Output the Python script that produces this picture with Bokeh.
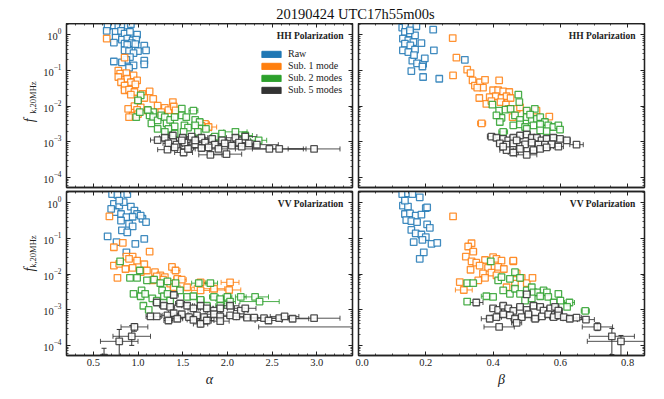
import math
from bokeh.plotting import figure
from bokeh.models import (ColumnDataSource, Whisker, TeeHead, Label, Legend, LegendItem,
                          LinearAxis, LogAxis, SingleIntervalTicker, LogTicker, Range1d,
                          PrintfTickFormatter)
from bokeh.core.properties import value
from bokeh.layouts import column, row
from bokeh.embed import file_html
from bokeh.resources import INLINE

TITLE = "20190424 UTC17h55m00s"
SERIES = ["Raw", "Sub. 1 mode", "Sub. 2 modes", "Sub. 5 modes"]
COLORS = ["#1f77b4", "#ff7f0e", "#2ca02c", "#333333"]
POLS = ["HH Polarization", "VV Polarization"]
XLABELS = ["α", "β"]
YLABEL_MAIN = "f"
YLABEL_SUB = "k,20MHz"

# ---------------- HH, alpha ----------------
HH_A_RAW_X = [0.66,0.73,0.78,0.83,0.885,0.92,0.65,0.75,0.81,0.85,0.91,0.99,0.75,0.82,0.88,0.94,0.98,0.73,0.85,0.93,0.88,0.97,1.07,1.09,0.85,0.90,1.00,0.95,0.91,0.87,1.07,1.07,0.73,0.82,0.95,0.90]
HH_A_RAW_Y = [1.76,1.87,1.68,1.95,1.83,2.0,1.30,1.22,1.30,1.09,1.22,1.02,0.84,0.74,0.79,0.71,0.74,0.61,0.57,0.59,0.53,0.55,0.50,0.37,0.37,0.35,0.35,0.31,0.24,0.20,0.19,0.15,0.18,0.17,0.14,0.12]

HH_A_S1_X = [0.65,0.85,0.78,0.80,0.87,0.95,0.78,0.88,0.99,0.81,0.92,0.85,0.97,0.85,0.90,0.96,0.92,1.05,1.13,1.17,1.07,1.00,0.96,1.03,0.89,0.99,0.94,0.90,1.00,1.11,1.22,1.30,1.34,1.39,1.40,1.42,1.26,1.75,1.79,1.71]
HH_A_S1_Y = [0.79,0.23,0.10,0.082,0.085,0.073,0.066,0.059,0.053,0.047,0.047,0.038,0.041,0.028,0.029,0.025,0.021,0.022,0.026,0.016,0.017,0.014,0.010,0.0093,0.0084,0.0079,0.0054,0.0049,0.006,0.0075,0.0104,0.009,0.0077,0.013,0.0098,0.0076,0.0068,0.0032,0.0026,0.0028]
HH_A_S1_XERR = [0,0,0,0,0,0,0,0,0,0,0,0,0,0,0,0,0,0,0,0,0,0,0,0,0,0,0,0,0,0,0,0,0,0.02,0.03,0.02,0,0.05,0.09,0.04]

HH_A_S2_X = [1.03,1.00,0.98,1.02,1.17,1.13,1.17,1.15,1.22,1.26,1.30,1.32,1.36,1.41,1.49,1.49,1.54,1.62,1.64,1.69,1.52,1.56,1.64,1.76,1.41,1.34,1.22,1.30,1.41,1.51,1.67,2.09,2.20,2.35,1.86,1.94,1.11]
HH_A_S2_Y = [0.020,0.0145,0.0049,0.0068,0.0068,0.0055,0.0049,0.0033,0.0040,0.0055,0.0049,0.0033,0.0041,0.0049,0.0085,0.0055,0.0049,0.0075,0.0041,0.0036,0.0029,0.0025,0.0029,0.0023,0.0027,0.0023,0.0023,0.0019,0.0017,0.0019,0.0019,0.0019,0.0015,0.0011,0.0014,0.0017,0.0078]
HH_A_S2_XERR = [0,0,0,0,0,0,0,0,0,0,0,0,0,0,0,0,0,0.05,0,0.04,0,0,0,0.06,0,0,0,0,0,0,0,0.13,0.08,0.09,0.05,0,0]

HH_A_S5_X = [1.22,1.30,1.39,1.50,1.60,1.71,1.83,1.94,2.09,2.20,1.34,1.43,1.52,1.64,1.75,1.86,1.97,2.05,2.13,2.24,2.33,2.47,2.58,2.97,1.33,1.51,1.81,1.99,1.41,1.56,1.71,1.90,2.16,1.64,1.49,1.79]
HH_A_S5_Y = [0.00112,0.0013,0.0015,0.0013,0.0014,0.0013,0.0012,0.0011,0.0013,0.0014,0.0009,0.00083,0.00095,0.00085,0.00095,0.00083,0.0009,0.00078,0.00095,0.0009,0.00083,0.00063,0.00063,0.00063,0.0006,0.0005,0.00043,0.00045,0.0007,0.00063,0.00067,0.00063,0.00073,0.0011,0.0011,0.0007]
HH_A_S5_XERR = [0.08,0.06,0.05,0.07,0.06,0.07,0.08,0.1,0.1,0.13,0.06,0.07,0.06,0.08,0.09,0.08,0.1,0.12,0.1,0.12,0.24,0.38,0.3,0.29,0.11,0.1,0.13,0.17,0.07,0.08,0.09,0.1,0.12,0.05,0.06,0.08]

# ---------------- HH, beta ----------------
HH_B_RAW_X = [0.13,0.14,0.157,0.172,0.138,0.153,0.168,0.132,0.148,0.163,0.138,0.154,0.132,0.148,0.168,0.187,0.160,0.174,0.192,0.197,0.19,0.157,0.192,0.24,0.224,0.222,0.316,0.153,0.165]
HH_B_RAW_Y = [1.61,1.76,1.87,1.76,1.22,1.09,0.98,0.79,0.71,0.63,0.57,0.51,0.37,0.33,0.39,0.59,0.19,0.16,0.155,0.22,0.13,0.097,0.066,0.059,0.37,1.41,0.20,1.35,0.27]

HH_B_S1_X = [0.28,0.291,0.281,0.323,0.333,0.339,0.346,0.361,0.376,0.370,0.353,0.418,0.40,0.415,0.43,0.448,0.359,0.39,0.408,0.425,0.44,0.452,0.38,0.395,0.422,0.438,0.47,0.48,0.50,0.529,0.567,0.366,0.458,0.445]
HH_B_S1_Y = [0.82,0.23,0.073,0.106,0.085,0.053,0.038,0.047,0.055,0.033,0.033,0.053,0.028,0.028,0.026,0.025,0.017,0.018,0.019,0.017,0.019,0.017,0.0116,0.0139,0.013,0.011,0.0084,0.0093,0.0068,0.0075,0.0051,0.0033,0.0049,0.0084]
HH_B_S1_XERR = [0,0,0,0,0,0,0,0,0,0,0,0,0,0,0,0,0,0,0,0,0,0,0,0,0,0,0,0,0,0,0,0.012,0,0]

HH_B_S2_X = [0.475,0.478,0.398,0.418,0.437,0.452,0.425,0.41,0.42,0.43,0.465,0.48,0.50,0.50,0.515,0.53,0.54,0.554,0.46,0.48,0.495,0.52,0.54,0.564,0.579,0.594,0.599,0.559,0.54,0.50,0.524,0.51]
HH_B_S2_Y = [0.021,0.013,0.011,0.0075,0.008,0.0084,0.0047,0.0055,0.0036,0.0019,0.0055,0.0041,0.0075,0.0049,0.0041,0.0044,0.0049,0.0036,0.0029,0.0031,0.0026,0.0029,0.0031,0.0029,0.0026,0.0029,0.0022,0.002,0.0021,0.0023,0.0084,0.0058]
HH_B_S2_XERR = [0,0,0,0,0,0,0,0,0,0.013,0,0,0,0,0,0,0,0,0,0,0,0,0,0,0,0,0,0,0,0,0,0]

HH_B_S5_X = [0.395,0.41,0.43,0.445,0.46,0.48,0.50,0.515,0.53,0.544,0.559,0.579,0.599,0.619,0.648,0.42,0.44,0.46,0.48,0.495,0.515,0.535,0.554,0.574,0.594,0.44,0.46,0.50,0.48,0.52,0.54,0.559,0.43,0.47]
HH_B_S5_Y = [0.0014,0.0013,0.0012,0.0011,0.0013,0.0015,0.0016,0.0013,0.0013,0.0011,0.0012,0.0013,0.0012,0.0011,0.00083,0.0009,0.00083,0.0009,0.00078,0.00085,0.00095,0.00083,0.00083,0.00085,0.00073,0.00058,0.0005,0.00043,0.00063,0.00058,0.00063,0.0007,0.00073,0.0011]
HH_B_S5_XERR = [0.012,0.01,0.008,0.01,0.01,0.008,0.01,0.01,0.01,0.012,0.01,0.012,0.015,0.01,0.02,0.01,0.012,0.01,0.01,0.01,0.01,0.012,0.01,0.012,0.015,0.02,0.015,0.03,0.012,0.012,0.01,0.012,0.01,0.01]

# ---------------- VV, alpha ----------------
VV_A_RAW_X = [0.71,0.77,0.88,0.73,0.79,0.84,0.92,0.96,0.99,1.05,1.09,0.75,0.81,0.87,0.94,1.03,0.81,0.90,0.94,0.82,0.88,0.66,0.76,0.87,0.97,1.07,0.70,0.79]
VV_A_RAW_Y = [1.78,1.7,1.78,0.94,0.84,1.05,0.79,0.61,0.49,0.36,0.29,0.55,0.49,0.40,0.41,0.44,0.32,0.26,0.22,0.17,0.15,0.116,0.079,0.041,0.071,0.098,0.68,1.16]

VV_A_S1_X = [0.68,0.83,0.73,0.87,0.94,0.90,0.99,1.07,1.13,0.73,0.79,0.86,0.94,1.03,1.10,1.19,1.25,0.77,1.30,1.28,1.38,1.42,1.44,1.49,1.36,1.40,1.55,1.70,1.85,2.03,2.02,1.70,1.21,1.16]
VV_A_S1_Y = [0.42,0.076,0.057,0.031,0.031,0.027,0.024,0.019,0.043,0.0175,0.0195,0.014,0.0151,0.0114,0.0127,0.0114,0.0093,0.0079,0.0083,0.0070,0.016,0.0127,0.0074,0.007,0.0054,0.0043,0.0043,0.0035,0.0039,0.0059,0.0036,0.0059,0.0087,0.0067]
VV_A_S1_XERR = [0,0,0,0,0,0,0,0,0,0,0,0,0,0,0,0,0,0,0,0,0.03,0.05,0.04,0.05,0.03,0.04,0.08,0.1,0.12,0.1,0.13,0.05,0,0]

VV_A_S2_X = [0.80,0.91,1.02,0.99,1.10,1.18,1.25,1.33,0.95,1.04,1.03,1.08,1.06,1.12,1.16,1.21,1.27,1.29,1.33,1.36,1.42,1.47,1.55,1.62,1.68,1.70,1.81,1.85,1.92,2.0,2.03,2.15,2.31,2.36,1.77,1.92]
VV_A_S2_Y = [0.023,0.0079,0.0127,0.0079,0.0067,0.007,0.0056,0.0063,0.0028,0.0035,0.0024,0.0028,0.0013,0.0010,0.0021,0.0018,0.0035,0.0024,0.0028,0.0018,0.0056,0.0035,0.0023,0.0024,0.0056,0.0019,0.0056,0.0023,0.0020,0.0023,0.0017,0.0023,0.0023,0.0017,0.0013,0.0013]
VV_A_S2_XERR = [0,0,0,0,0,0,0,0,0,0,0,0,0,0,0,0,0,0,0,0,0.03,0.03,0.04,0.04,0.08,0.04,0.08,0.05,0.05,0.05,0.06,0.06,0.15,0.22,0.04,0.05]

VV_A_S5_X = [1.40,1.21,1.29,1.36,1.47,1.55,1.62,1.70,1.77,1.85,1.92,2.03,2.15,2.20,1.14,1.21,1.33,1.40,1.49,1.57,1.66,1.74,1.85,1.92,2.03,2.10,2.22,2.30,2.41,2.46,2.58,2.64,2.73,2.97,1.34,1.44,1.70,1.62,1.92,1.77,3.60,0.96,0.93,0.79,0.62]
VV_A_S5_Y = [0.0026,0.0016,0.0013,0.0012,0.0015,0.0013,0.0011,0.0013,0.0011,0.00095,0.0011,0.0013,0.00095,0.0011,0.00065,0.00065,0.0007,0.0008,0.00075,0.00062,0.0007,0.00062,0.00075,0.00065,0.0007,0.00065,0.0006,0.0006,0.00058,0.0005,0.00058,0.00065,0.00056,0.00058,0.0005,0.00056,0.0004,0.00052,0.00048,0.0005,0.00033,0.00033,0.00018,0.00013,0.000045]
VV_A_S5_XERR = [0.05,0.04,0.05,0.05,0.05,0.06,0.06,0.07,0.07,0.07,0.08,0.1,0.08,0.12,0.05,0.05,0.06,0.06,0.07,0.07,0.08,0.08,0.09,0.1,0.1,0.1,0.12,0.12,0.14,0.15,0.14,0.16,0.18,0.29,0.05,0.06,0.08,0.07,0.1,0.08,1.25,0.15,0.21,0.21,0.0]
VV_A_YBAR_X = [0.96,0.93,0.79,0.62,1.70]
VV_A_YBAR_LO = [0.00025,0.0001,0.00004,0.00004,0.00033]
VV_A_YBAR_HI = [0.00041,0.00036,0.00028,0.000083,0.00048]

# ---------------- VV, beta ----------------
VV_B_RAW_X = [0.13,0.147,0.16,0.132,0.147,0.20,0.204,0.138,0.153,0.17,0.187,0.142,0.157,0.174,0.204,0.212,0.157,0.17,0.187,0.20,0.19,0.217,0.234,0.164,0.194,0.182,0.182,0.138]
VV_B_RAW_Y = [1.78,1.86,1.78,0.84,0.79,0.72,0.75,0.49,0.51,0.44,0.47,0.33,0.31,0.29,0.25,0.20,0.175,0.14,0.13,0.11,0.092,0.071,0.076,0.079,0.041,0.027,1.44,1.16]

VV_B_S1_X = [0.281,0.336,0.326,0.341,0.319,0.336,0.35,0.376,0.40,0.41,0.425,0.46,0.333,0.36,0.385,0.415,0.432,0.37,0.395,0.41,0.301,0.313,0.356,0.376,0.47,0.485,0.50,0.517,0.465,0.44,0.46]
VV_B_S1_Y = [0.42,0.074,0.06,0.043,0.031,0.023,0.021,0.025,0.03,0.027,0.024,0.023,0.0133,0.0175,0.015,0.016,0.014,0.0105,0.011,0.0093,0.006,0.0036,0.0067,0.0079,0.0105,0.0079,0.0056,0.0079,0.0054,0.0043,0.024]
VV_B_S1_XERR = [0,0,0,0.01,0,0,0,0,0,0,0,0,0,0,0,0,0,0,0,0,0,0.025,0,0,0,0,0,0,0,0,0]

VV_B_S2_X = [0.393,0.323,0.341,0.323,0.38,0.40,0.415,0.425,0.45,0.465,0.48,0.43,0.45,0.465,0.48,0.50,0.515,0.52,0.534,0.55,0.56,0.54,0.564,0.594,0.58,0.60,0.627,0.62,0.674,0.515,0.495]
VV_B_S2_Y = [0.023,0.0056,0.0056,0.0017,0.0024,0.0023,0.0067,0.0083,0.0074,0.0114,0.0079,0.0035,0.0028,0.0039,0.0028,0.0035,0.0043,0.0031,0.0031,0.0035,0.0031,0.0024,0.0023,0.0028,0.0016,0.0018,0.0016,0.0012,0.00093,0.0021,0.0018]
VV_B_S2_XERR = [0,0.008,0,0,0.015,0,0,0,0,0,0,0,0,0,0,0,0,0,0,0,0,0,0,0,0,0,0.015,0,0.012,0,0]

VV_B_S5_X = [0.35,0.40,0.415,0.43,0.445,0.46,0.48,0.50,0.50,0.52,0.54,0.55,0.57,0.584,0.594,0.39,0.41,0.43,0.45,0.465,0.485,0.505,0.525,0.545,0.564,0.58,0.594,0.61,0.628,0.648,0.676,0.418,0.47,0.71,0.753,0.78]
VV_B_S5_Y = [0.0016,0.0011,0.001,0.0013,0.0011,0.00093,0.0012,0.0027,0.001,0.0013,0.0012,0.00095,0.0011,0.0012,0.00095,0.00056,0.00062,0.00075,0.0007,0.00056,0.00062,0.00075,0.00056,0.00065,0.00075,0.00062,0.0007,0.00062,0.00056,0.0006,0.00053,0.00033,0.00043,0.00033,0.00018,0.00013]
VV_B_S5_XERR = [0.02,0.01,0.01,0.01,0.01,0.01,0.01,0.01,0.01,0.01,0.01,0.01,0.01,0.012,0.012,0.025,0.015,0.01,0.01,0.012,0.01,0.01,0.012,0.01,0.01,0.012,0.012,0.015,0.02,0.015,0.025,0.045,0.015,0.045,0.067,0.1]
VV_B_YBAR_X = [0.71,0.753,0.78]
VV_B_YBAR_LO = [0.00026,0.000055,0.00004]
VV_B_YBAR_HI = [0.00043,0.0003,0.00019]

Y_RANGE = (5.2e-5, 2.1)
ALPHA_RANGE = (0.2, 3.4)
BETA_RANGE = (0.0, 0.85)

SERIF = "Liberation Serif"
AXIS_COLOR = "#222222"
TEXT_COLOR = "#222222"

FRAME_W, FRAME_H = 286, 164
LABEL_COL_W = 38
TOP_ROW_H = FRAME_H + 2
BOT_ROW_H = 2 + FRAME_H + 44


def style_axis(ax, show_labels):
    ax.major_tick_in = 4
    ax.major_tick_out = 0
    ax.minor_tick_in = 2
    ax.minor_tick_out = 0
    ax.axis_line_color = AXIS_COLOR
    ax.axis_line_width = 1.3
    ax.major_tick_line_color = AXIS_COLOR
    ax.minor_tick_line_color = AXIS_COLOR
    ax.major_tick_line_width = 1
    ax.minor_tick_line_width = 0.8
    ax.major_label_text_font = SERIF
    ax.major_label_text_color = TEXT_COLOR
    if show_labels:
        ax.major_label_text_font_size = "10.5px"
    else:
        ax.major_label_text_font_size = "1px"
        ax.major_label_text_alpha = 0
        ax.major_label_standoff = 0


def make_panel(series_xy, xerrs, ybar, x_range, is_alpha, top_row, left_col, pol, legend=False):
    p = figure(frame_width=FRAME_W, frame_height=FRAME_H,
               x_range=Range1d(*x_range), y_range=Range1d(*Y_RANGE), y_axis_type="log",
               toolbar_location=None, output_backend="svg",
               min_border_left=(66 - LABEL_COL_W) if left_col else 3,
               min_border_right=3 if left_col else 20,
               min_border_top=0 if top_row else 2,
               min_border_bottom=2 if top_row else 44,
               background_fill_color="white", border_fill_color="white")
    p.grid.visible = False
    p.outline_line_color = AXIS_COLOR
    p.outline_line_width = 1.3

    if is_alpha:
        xt = lambda: SingleIntervalTicker(interval=0.5, num_minor_ticks=5)
    else:
        xt = lambda: SingleIntervalTicker(interval=0.2, num_minor_ticks=4)

    bottom_ax = p.below[0]
    left_ax = p.left[0]
    bottom_ax.ticker = xt()
    bottom_ax.formatter = PrintfTickFormatter(format="%.1f")
    style_axis(bottom_ax, not top_row)
    left_ax.ticker = LogTicker(num_minor_ticks=10)
    style_axis(left_ax, left_col)
    if left_col:
        left_ax.major_label_standoff = 5

    top_ax = LinearAxis(ticker=xt())
    style_axis(top_ax, False)
    p.add_layout(top_ax, "above")
    right_ax = LogAxis(ticker=LogTicker(num_minor_ticks=10))
    style_axis(right_ax, False)
    p.add_layout(right_ax, "right")

    if not top_row:
        bottom_ax.axis_label = XLABELS[0] if is_alpha else XLABELS[1]
        bottom_ax.axis_label_text_font = SERIF
        bottom_ax.axis_label_text_font_style = "italic"
        bottom_ax.axis_label_text_font_size = "14px"
        bottom_ax.axis_label_text_color = TEXT_COLOR
        bottom_ax.axis_label_standoff = 3
        bottom_ax.major_label_standoff = 3

    # error bars under the markers
    for (xs, ys), xe, col in zip(series_xy, xerrs, COLORS):
        if xe is None:
            continue
        idx = [i for i, e in enumerate(xe) if e > 0]
        src = ColumnDataSource(dict(y=[ys[i] for i in idx],
                                    lo=[xs[i] - xe[i] for i in idx],
                                    hi=[xs[i] + xe[i] for i in idx]))
        p.add_layout(Whisker(source=src, base="y", lower="lo", upper="hi", dimension="width",
                             line_color=col, line_width=1, line_alpha=0.85,
                             lower_head=TeeHead(size=5, line_color=col, line_width=1, line_alpha=0.85),
                             upper_head=TeeHead(size=5, line_color=col, line_width=1, line_alpha=0.85)))
    if ybar is not None:
        bx, blo, bhi = ybar
        src = ColumnDataSource(dict(x=bx, lo=blo, hi=bhi))
        col = COLORS[3]
        p.add_layout(Whisker(source=src, base="x", lower="lo", upper="hi", dimension="height",
                             line_color=col, line_width=1,
                             lower_head=TeeHead(size=5, line_color=col, line_width=1),
                             upper_head=TeeHead(size=5, line_color=col, line_width=1)))

    for (xs, ys), col in zip(series_xy, COLORS):
        src = ColumnDataSource(dict(x=xs, y=ys))
        p.scatter("x", "y", source=src, marker="square", size=6.5, fill_color="white",
                  fill_alpha=0.9, line_color=col, line_width=1.3, line_alpha=0.85)

    p.add_layout(Label(x=FRAME_W - 9, y=FRAME_H - 12, x_units="screen", y_units="screen", text=pol,
                       text_font=SERIF, text_font_size="9.5px", text_font_style="bold",
                       text_align="right", text_baseline="middle", text_color=TEXT_COLOR))

    if legend:
        items = []
        for name, col in zip(SERIES, COLORS):
            r = p.quad(left=[0.0], right=[0.0], top=[1e-9], bottom=[1e-9], fill_color=col,
                       line_color=col, fill_alpha=1.0)
            items.append(LegendItem(label=name, renderers=[r]))
        lg = Legend(items=items, location=(193, 92), glyph_width=24, glyph_height=8,
                    label_height=10, label_standoff=5, spacing=1, padding=0, margin=0,
                    label_text_font=SERIF, label_text_font_size="10px",
                    label_text_color=TEXT_COLOR, border_line_alpha=0,
                    background_fill_alpha=0)
        p.add_layout(lg)
    return p


def ylabel_column(height, frame_center_from_top):
    f = figure(width=LABEL_COL_W, height=height, x_range=(0, LABEL_COL_W), y_range=(0, height),
               x_axis_location=None, y_axis_location=None, min_border=0,
               toolbar_location=None, output_backend="svg")
    f.grid.visible = False
    f.outline_line_color = None
    yc = height - frame_center_from_top
    f.text(x=[28.5], y=[yc - 16], text=[YLABEL_MAIN], angle=math.pi / 2,
           text_font=value(SERIF), text_font_style="italic", text_font_size="14px",
           text_align="center", text_baseline="middle", text_color=TEXT_COLOR)
    f.text(x=[32.5], y=[yc + 7], text=[YLABEL_SUB], angle=math.pi / 2,
           text_font=value(SERIF), text_font_size="8.5px",
           text_align="center", text_baseline="middle", text_color=TEXT_COLOR)
    return f


tl = make_panel([(HH_A_RAW_X, HH_A_RAW_Y), (HH_A_S1_X, HH_A_S1_Y), (HH_A_S2_X, HH_A_S2_Y), (HH_A_S5_X, HH_A_S5_Y)],
                [None, HH_A_S1_XERR, HH_A_S2_XERR, HH_A_S5_XERR], None,
                ALPHA_RANGE, True, True, True, POLS[0], legend=True)
tr = make_panel([(HH_B_RAW_X, HH_B_RAW_Y), (HH_B_S1_X, HH_B_S1_Y), (HH_B_S2_X, HH_B_S2_Y), (HH_B_S5_X, HH_B_S5_Y)],
                [None, HH_B_S1_XERR, HH_B_S2_XERR, HH_B_S5_XERR], None,
                BETA_RANGE, False, True, False, POLS[0])
bl = make_panel([(VV_A_RAW_X, VV_A_RAW_Y), (VV_A_S1_X, VV_A_S1_Y), (VV_A_S2_X, VV_A_S2_Y), (VV_A_S5_X, VV_A_S5_Y)],
                [None, VV_A_S1_XERR, VV_A_S2_XERR, VV_A_S5_XERR], (VV_A_YBAR_X, VV_A_YBAR_LO, VV_A_YBAR_HI),
                ALPHA_RANGE, True, False, True, POLS[1])
br = make_panel([(VV_B_RAW_X, VV_B_RAW_Y), (VV_B_S1_X, VV_B_S1_Y), (VV_B_S2_X, VV_B_S2_Y), (VV_B_S5_X, VV_B_S5_Y)],
                [None, VV_B_S1_XERR, VV_B_S2_XERR, VV_B_S5_XERR], (VV_B_YBAR_X, VV_B_YBAR_LO, VV_B_YBAR_HI),
                BETA_RANGE, False, False, False, POLS[1])

lab_top = ylabel_column(TOP_ROW_H, FRAME_H / 2)
lab_bot = ylabel_column(BOT_ROW_H, 2 + FRAME_H / 2)

TITLE_H = 23
title_fig = figure(width=664, height=TITLE_H, x_range=(0, 664), y_range=(0, TITLE_H),
                   x_axis_location=None, y_axis_location=None, min_border=0,
                   toolbar_location=None, output_backend="svg")
title_fig.grid.visible = False
title_fig.outline_line_color = None
title_fig.add_layout(Label(x=355, y=TITLE_H - 13.5, text=TITLE, text_font=SERIF, text_font_size="14.5px",
                           text_align="center", text_baseline="middle", text_color="#111111"))

layout = column(title_fig, row(lab_top, tl, tr), row(lab_bot, bl, br))
open("out.html", "w").write(file_html(layout, INLINE))
